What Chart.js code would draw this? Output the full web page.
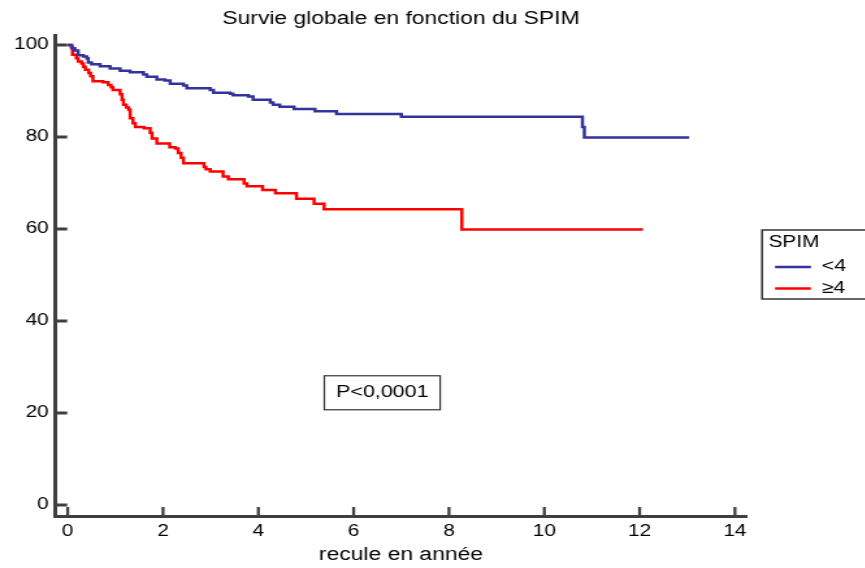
<!DOCTYPE html>
<html><head><meta charset="utf-8">
<script src="https://cdn.jsdelivr.net/npm/chart.js@4.4.1/dist/chart.umd.min.js"></script>
<style>
html,body{margin:0;padding:0;background:#fff;overflow:hidden;width:865px;height:568px;}
#wrap{position:absolute;left:0;top:0;width:690px;height:568px;transform:scaleX(1.3);transform-origin:0 0;}
</style></head><body>
<div id="wrap"><canvas id="c"></canvas></div>
<script>
// ---- data ----
const chartTitle = 'Survie globale en fonction du SPIM';
const xAxisTitle = 'recule en année';
const legendTitle = 'SPIM';
const seriesNames = ['<4', '≥4'];

const blueTimes = [0, 0.08, 0.15, 0.22, 0.33, 0.40, 0.43, 0.50, 0.68, 0.89, 1.10, 1.31, 1.59, 1.66, 1.87, 2.04, 2.15, 2.43, 2.50, 2.99, 3.06, 3.41, 3.47, 3.79, 3.89, 4.25, 4.31, 4.45, 4.75, 5.19, 5.64, 7.00, 10.80, 10.84, 13.04];
const blueSurv  = [100, 99.3, 98.8, 97.8, 97.5, 97.1, 96.2, 95.8, 95.4, 94.9, 94.4, 94.1, 93.6, 93.1, 92.5, 92.3, 91.6, 91.2, 90.6, 90.2, 89.6, 89.4, 89.1, 88.8, 88.1, 87.5, 87.0, 86.6, 86.1, 85.6, 85.0, 84.4, 82.2, 79.9, 79.9];

const redTimes = [0, 0.08, 0.10, 0.18, 0.22, 0.29, 0.33, 0.37, 0.44, 0.48, 0.53, 0.74, 0.85, 0.91, 0.95, 1.10, 1.14, 1.17, 1.23, 1.28, 1.31, 1.37, 1.42, 1.60, 1.73, 1.77, 1.87, 2.14, 2.26, 2.32, 2.38, 2.43, 2.86, 2.90, 2.99, 3.26, 3.37, 3.70, 3.76, 4.09, 4.36, 4.80, 5.17, 5.38, 8.27, 12.07];
const redSurv  = [100, 99.6, 97.9, 97.1, 96.4, 96.0, 95.3, 94.6, 93.9, 93.2, 92.1, 91.9, 91.3, 90.8, 90.2, 89.3, 88.1, 87.0, 86.4, 85.9, 84.1, 83.0, 82.2, 81.9, 80.9, 79.7, 78.6, 77.8, 77.5, 76.5, 75.5, 74.3, 73.5, 73.0, 72.5, 71.4, 70.8, 69.9, 69.3, 68.5, 67.8, 66.6, 65.5, 64.3, 59.9, 59.9];

const xTickValues = [0, 2, 4, 6, 8, 10, 12, 14];
const xTickLabels = ['0', '2', '4', '6', '8', '10', '12', '14'];
const yTickValues = [0, 20, 40, 60, 80, 100];
const yTickLabels = ['0', '20', '40', '60', '80', '100'];

const pValueText = 'P<0,0001';
const pValueAt = [6.6, 24.4];   // annotation centre, in data units

// ---- styles ----
const FONT = '"Liberation Sans", Arial, Helvetica, sans-serif';
const AXIS_COLOR = '#3f3f3f';
const BLUE = '#33339b';
const RED = '#ff0000';

Chart.defaults.font.family = FONT;
Chart.defaults.color = '#000';

const overlay = {
  id: 'overlay',
  afterLayout(chart) {
    const lg = chart.legend;
    if (!lg) return;
    const L = 591.2, T = 234.5;
    lg.left = L; lg.right = L + 150;
    lg.top = T; lg.bottom = T + 120;
  },
  afterDraw(chart) {
    const {ctx, chartArea: ca, scales: {x, y}} = chart;
    ctx.save();
    ctx.strokeStyle = AXIS_COLOR;
    ctx.lineWidth = 2.3;
    ctx.beginPath();
    xTickValues.forEach(v => {
      const px = x.getPixelForValue(v);
      ctx.moveTo(px, ca.bottom); ctx.lineTo(px, ca.bottom - 9);
    });
    ctx.stroke();
    ctx.lineWidth = 3;
    ctx.beginPath();
    yTickValues.forEach(v => {
      const py = y.getPixelForValue(v);
      ctx.moveTo(ca.left, py); ctx.lineTo(ca.left + 9.2, py);
    });
    ctx.stroke();

    // p-value box
    const cx = x.getPixelForValue(pValueAt[0]);
    const cy = y.getPixelForValue(pValueAt[1]);
    ctx.font = '16.5px ' + FONT;
    const tw = ctx.measureText(pValueText).width;
    const bw = tw + 18, bh = 34;
    ctx.fillStyle = '#fff';
    ctx.fillRect(cx - bw / 2, cy - bh / 2, bw, bh);
    ctx.lineWidth = 1.2;
    ctx.strokeStyle = '#333';
    ctx.strokeRect(cx - bw / 2, cy - bh / 2, bw, bh);
    ctx.fillStyle = '#000';
    ctx.textAlign = 'center';
    ctx.textBaseline = 'middle';
    ctx.fillText(pValueText, cx, cy);

    // legend frame
    const lg = chart.legend;
    ctx.lineWidth = 1.5;
    ctx.strokeStyle = '#333';
    ctx.strokeRect(lg.left - 5, lg.top - 4.5, chart.width - lg.left + 20, 69);
    ctx.restore();
  }
};

new Chart(document.getElementById('c'), {
  type: 'line',
  data: {
    datasets: [
      { label: seriesNames[0], data: blueTimes.map((t, i) => ({x: t, y: blueSurv[i]})),
        borderColor: BLUE, backgroundColor: BLUE, borderWidth: 2.5, pointRadius: 0, stepped: true, fill: false },
      { label: seriesNames[1], data: redTimes.map((t, i) => ({x: t, y: redSurv[i]})),
        borderColor: RED, backgroundColor: RED, borderWidth: 2.5, pointRadius: 0, stepped: true, fill: false }
    ]
  },
  options: {
    responsive: true,
    maintainAspectRatio: false,
    animation: false,
    events: [],
    layout: { padding: { left: 10.5, right: 115.6, top: 0, bottom: 0 } },
    plugins: {
      title: { display: true, text: chartTitle, fullSize: false, color: '#000',
               font: { size: 17.6, weight: 'normal', family: FONT }, padding: { top: 8.5, bottom: 5.5 } },
      legend: {
        display: true, position: 'chartArea', align: 'start',
        title: { display: true, text: legendTitle, position: 'start', color: '#000',
                 font: { size: 16, family: FONT }, padding: 0 },
        labels: {
          boxWidth: 27.6, boxHeight: 2.5, padding: 5, color: '#000',
          font: { size: 16.5, family: FONT },
          generateLabels(chart) {
            return Chart.defaults.plugins.legend.labels.generateLabels(chart).map(it => Object.assign(it, {lineWidth: 0}));
          }
        }
      },
      tooltip: { enabled: false }
    },
    scales: {
      x: {
        type: 'linear', min: -0.261, max: 14.247,
        grid: { display: false, drawTicks: false },
        border: { display: true, color: AXIS_COLOR, width: 3 },
        afterBuildTicks: s => { s.ticks = xTickValues.map(v => ({value: v})); },
        afterFit: s => { s.height = 52; },
        ticks: { autoSkip: false, maxRotation: 0, padding: 5.5, color: '#000', font: { size: 16, family: FONT },
                 callback: (v, i) => xTickLabels[i] },
        title: { display: true, text: xAxisTitle, color: '#000', font: { size: 17.6, family: FONT },
                 padding: { top: 0, bottom: 2 } }
      },
      y: {
        type: 'linear', min: -2.39, max: 102.15,
        grid: { display: false, drawTicks: false },
        border: { display: true, color: AXIS_COLOR, width: 3 },
        afterBuildTicks: s => { s.ticks = yTickValues.map(v => ({value: v})); },
        afterFit: s => { s.width = 32; },
        ticks: { padding: 5, color: '#000', font: { size: 16, family: FONT },
                 callback: (v, i) => yTickLabels[i] }
      }
    }
  },
  plugins: [overlay]
});
</script>
</body></html>
